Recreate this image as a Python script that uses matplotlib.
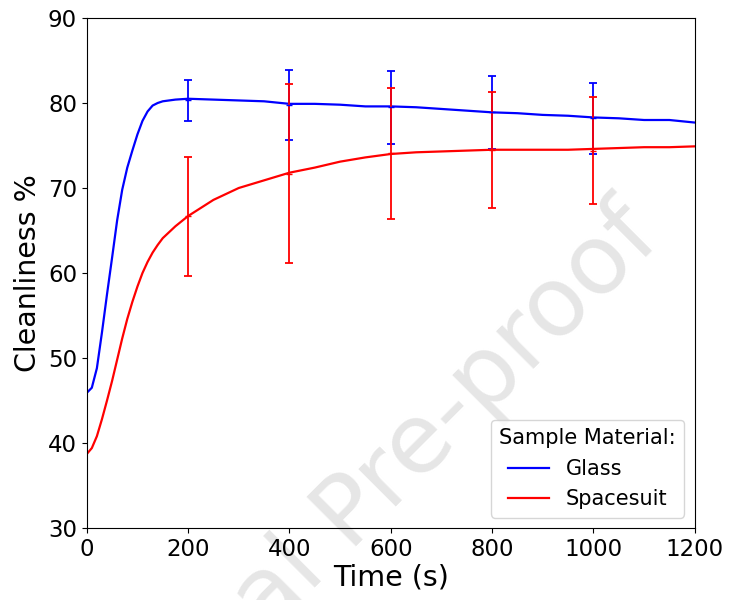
import matplotlib
matplotlib.use('Agg')
import matplotlib.pyplot as plt

# Curve data (time in s, cleanliness in %)
t = [0, 10, 20, 30, 40, 50, 60, 70, 80, 90, 100, 110, 120, 130, 140, 150, 175, 200,
     250, 300, 350, 400, 450, 500, 550, 600, 650, 700, 750, 800, 850, 900, 950, 1000,
     1050, 1100, 1150, 1200]
glass = [45.9, 46.5, 48.8, 53.0, 57.5, 61.8, 66.2, 69.8, 72.4, 74.4, 76.3, 77.9, 79.0,
         79.7, 80.0, 80.2, 80.4, 80.5, 80.4, 80.3, 80.2, 79.9, 79.9, 79.8, 79.6, 79.6,
         79.5, 79.3, 79.1, 78.9, 78.8, 78.6, 78.5, 78.3, 78.2, 78.0, 78.0, 77.7]
spacesuit = [38.7, 39.4, 40.8, 42.8, 45.0, 47.3, 49.8, 52.3, 54.6, 56.6, 58.4, 60.0,
             61.3, 62.4, 63.3, 64.1, 65.5, 66.7, 68.6, 70.0, 70.9, 71.8, 72.4, 73.1,
             73.6, 74.0, 74.2, 74.3, 74.4, 74.5, 74.5, 74.5, 74.5, 74.6, 74.7, 74.8,
             74.8, 74.9]

# Error bars
t_err = [200, 400, 600, 800, 1000]
glass_mean = [80.3, 79.75, 79.5, 78.9, 78.2]
glass_err = [2.4, 4.15, 4.27, 4.3, 4.17]
suit_mean = [66.65, 71.7, 74.1, 74.45, 74.4]
suit_err = [7.05, 10.5, 7.7, 6.85, 6.3]

fig = plt.figure(figsize=(7.29, 6), dpi=100)
ax = fig.add_axes([0.119, 0.12, 0.834, 0.85])
ax.set_facecolor('none')

ax.plot(t, glass, color='blue', lw=1.6, label='Glass')
ax.errorbar(t_err, glass_mean, yerr=glass_err, fmt='_', color='blue', ms=5,
            capsize=3, elinewidth=1.3, capthick=1.3)
ax.plot(t, spacesuit, color='red', lw=1.6, label='Spacesuit')
ax.errorbar(t_err, suit_mean, yerr=suit_err, fmt='_', color='red', ms=5,
            capsize=3, elinewidth=1.3, capthick=1.3)

ax.set_xlim(0, 1200)
ax.set_ylim(30, 90)
ax.set_xticks(range(0, 1201, 200))
ax.set_yticks(range(30, 91, 10))
ax.tick_params(labelsize=16.5)
ax.set_xlabel('Time (s)', fontsize=20.5, labelpad=2)
ax.set_ylabel('Cleanliness %', fontsize=20.5)

leg = ax.legend(title='Sample Material:', loc='lower right', fontsize=15,
                title_fontsize=15)

# watermark, behind the axes content
fig.text(0.5185, 0.118, 'Journal Pre-proof', fontsize=70, color='#e6e6e6',
         rotation=45, rotation_mode='anchor', ha='center', va='baseline', zorder=-1)

fig.savefig('out.png', dpi=100)
